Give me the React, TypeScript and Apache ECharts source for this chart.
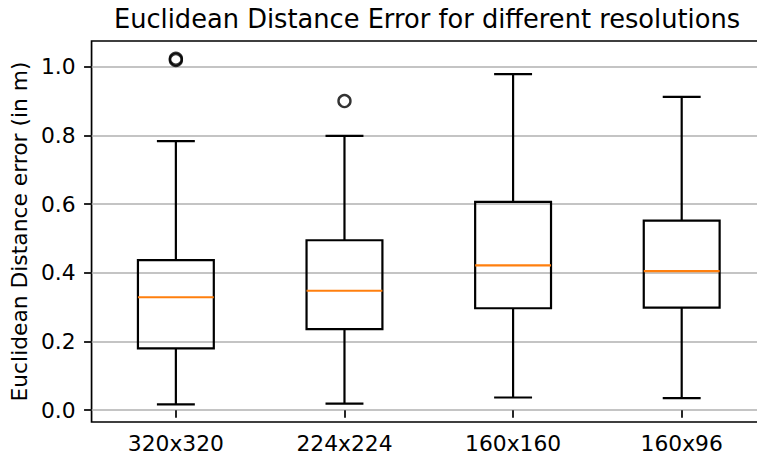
import React, { useEffect, useRef } from "react";
import * as echarts from "echarts";

const categories = ["320x320", "224x224", "160x160", "160x96"];
const whiskerLow = [0.017, 0.019, 0.037, 0.035];
const q1 = [0.18, 0.236, 0.297, 0.299];
const median = [0.329, 0.348, 0.422, 0.405];
const q3 = [0.437, 0.495, 0.607, 0.552];
const whiskerHigh = [0.784, 0.799, 0.979, 0.913];
const outlierCat = [0, 0, 1];
const outlierVal = [1.02, 1.024, 0.9006];
const yTicks = [0, 0.2, 0.4, 0.6, 0.8, 1.0];

const FONT = "DejaVu Sans";

export default function App() {
  const ref = useRef<HTMLDivElement>(null);
  useEffect(() => {
    if (!ref.current) return;
    const chart = echarts.init(ref.current, undefined, { renderer: "svg" });
    const boxData = categories.map((_, i) => [i, whiskerLow[i], q1[i], median[i], q3[i], whiskerHigh[i]]);
    const outData = outlierCat.map((c, i) => [c, outlierVal[i]]);
    chart.setOption({
      animation: false,
      backgroundColor: "#fff",
      graphic: [
        {
          type: "text",
          x: 427,
          y: 19,
          style: {
            text: "Euclidean Distance Error for different resolutions",
            font: `25.7px "${FONT}"`,
            fill: "#000",
            align: "center",
            verticalAlign: "middle",
          },
        },
      ],
      grid: {
        left: 88,
        right: 0,
        top: 41,
        bottom: 35,
        show: true,
        borderColor: "#000",
        borderWidth: 1.7,
        backgroundColor: "transparent",
      },
      xAxis: {
        type: "category",
        data: categories,
        boundaryGap: true,
        axisLine: { show: false },
        axisTick: { show: true, alignWithLabel: true, length: 7.5, inside: false, lineStyle: { color: "#000", width: 1.7 } },
        axisLabel: { color: "#000", fontFamily: FONT, fontSize: 21.8, margin: 10 },
        splitLine: { show: false },
      },
      yAxis: {
        type: "value",
        min: -0.0344,
        max: 1.0755,
        name: "Euclidean Distance error (in m)",
        nameLocation: "middle",
        nameGap: 58,
        nameTextStyle: { color: "#000", fontFamily: FONT, fontSize: 21.8 },
        axisLine: { show: false },
        axisTick: { show: true, length: 7.5, customValues: yTicks, lineStyle: { color: "#000", width: 1.7 } },
        axisLabel: {
          color: "#000",
          fontFamily: FONT,
          fontSize: 21.8,
          margin: 16,
          customValues: yTicks,
          formatter: (v: number) => v.toFixed(1),
        },
        splitLine: { show: true, lineStyle: { color: "#b0b0b0", width: 1.7 } },
      },
      series: [
        {
          type: "custom",
          data: boxData,
          encode: { x: 0, y: [1, 2, 3, 4, 5] },
          clip: false,
          renderItem: (params: any, api: any) => {
            const x = api.value(0);
            const band = api.size([1, 0])[0];
            const bw = band * 0.45;
            const cw = bw / 2;
            const pLow = api.coord([x, api.value(1)]);
            const pQ1 = api.coord([x, api.value(2)]);
            const pMed = api.coord([x, api.value(3)]);
            const pQ3 = api.coord([x, api.value(4)]);
            const pHigh = api.coord([x, api.value(5)]);
            const cx = pLow[0];
            const black = { stroke: "#000", lineWidth: 2.2, fill: "none" };
            return {
              type: "group",
              children: [
                { type: "line", shape: { x1: cx, y1: pLow[1], x2: cx, y2: pQ1[1] }, style: black },
                { type: "line", shape: { x1: cx, y1: pQ3[1], x2: cx, y2: pHigh[1] }, style: black },
                { type: "line", shape: { x1: cx - cw / 2, y1: pLow[1], x2: cx + cw / 2, y2: pLow[1] }, style: black },
                { type: "line", shape: { x1: cx - cw / 2, y1: pHigh[1], x2: cx + cw / 2, y2: pHigh[1] }, style: black },
                {
                  type: "rect",
                  shape: { x: cx - bw / 2, y: pQ3[1], width: bw, height: pQ1[1] - pQ3[1] },
                  style: black,
                },
                {
                  type: "line",
                  shape: { x1: cx - bw / 2, y1: pMed[1], x2: cx + bw / 2, y2: pMed[1] },
                  style: { stroke: "#ff7f0e", lineWidth: 2.2 },
                },
              ],
            };
          },
        },
        {
          type: "scatter",
          data: outData,
          symbol: "circle",
          symbolSize: 12,
          itemStyle: { color: "transparent", borderColor: "#000", borderWidth: 2.4 },
        },
      ],
    });
    return () => chart.dispose();
  }, []);
  return (
    <div
      ref={ref}
      style={{ position: "fixed", left: 0, top: 0, width: 766, height: 457, background: "#fff" }}
    />
  );
}
